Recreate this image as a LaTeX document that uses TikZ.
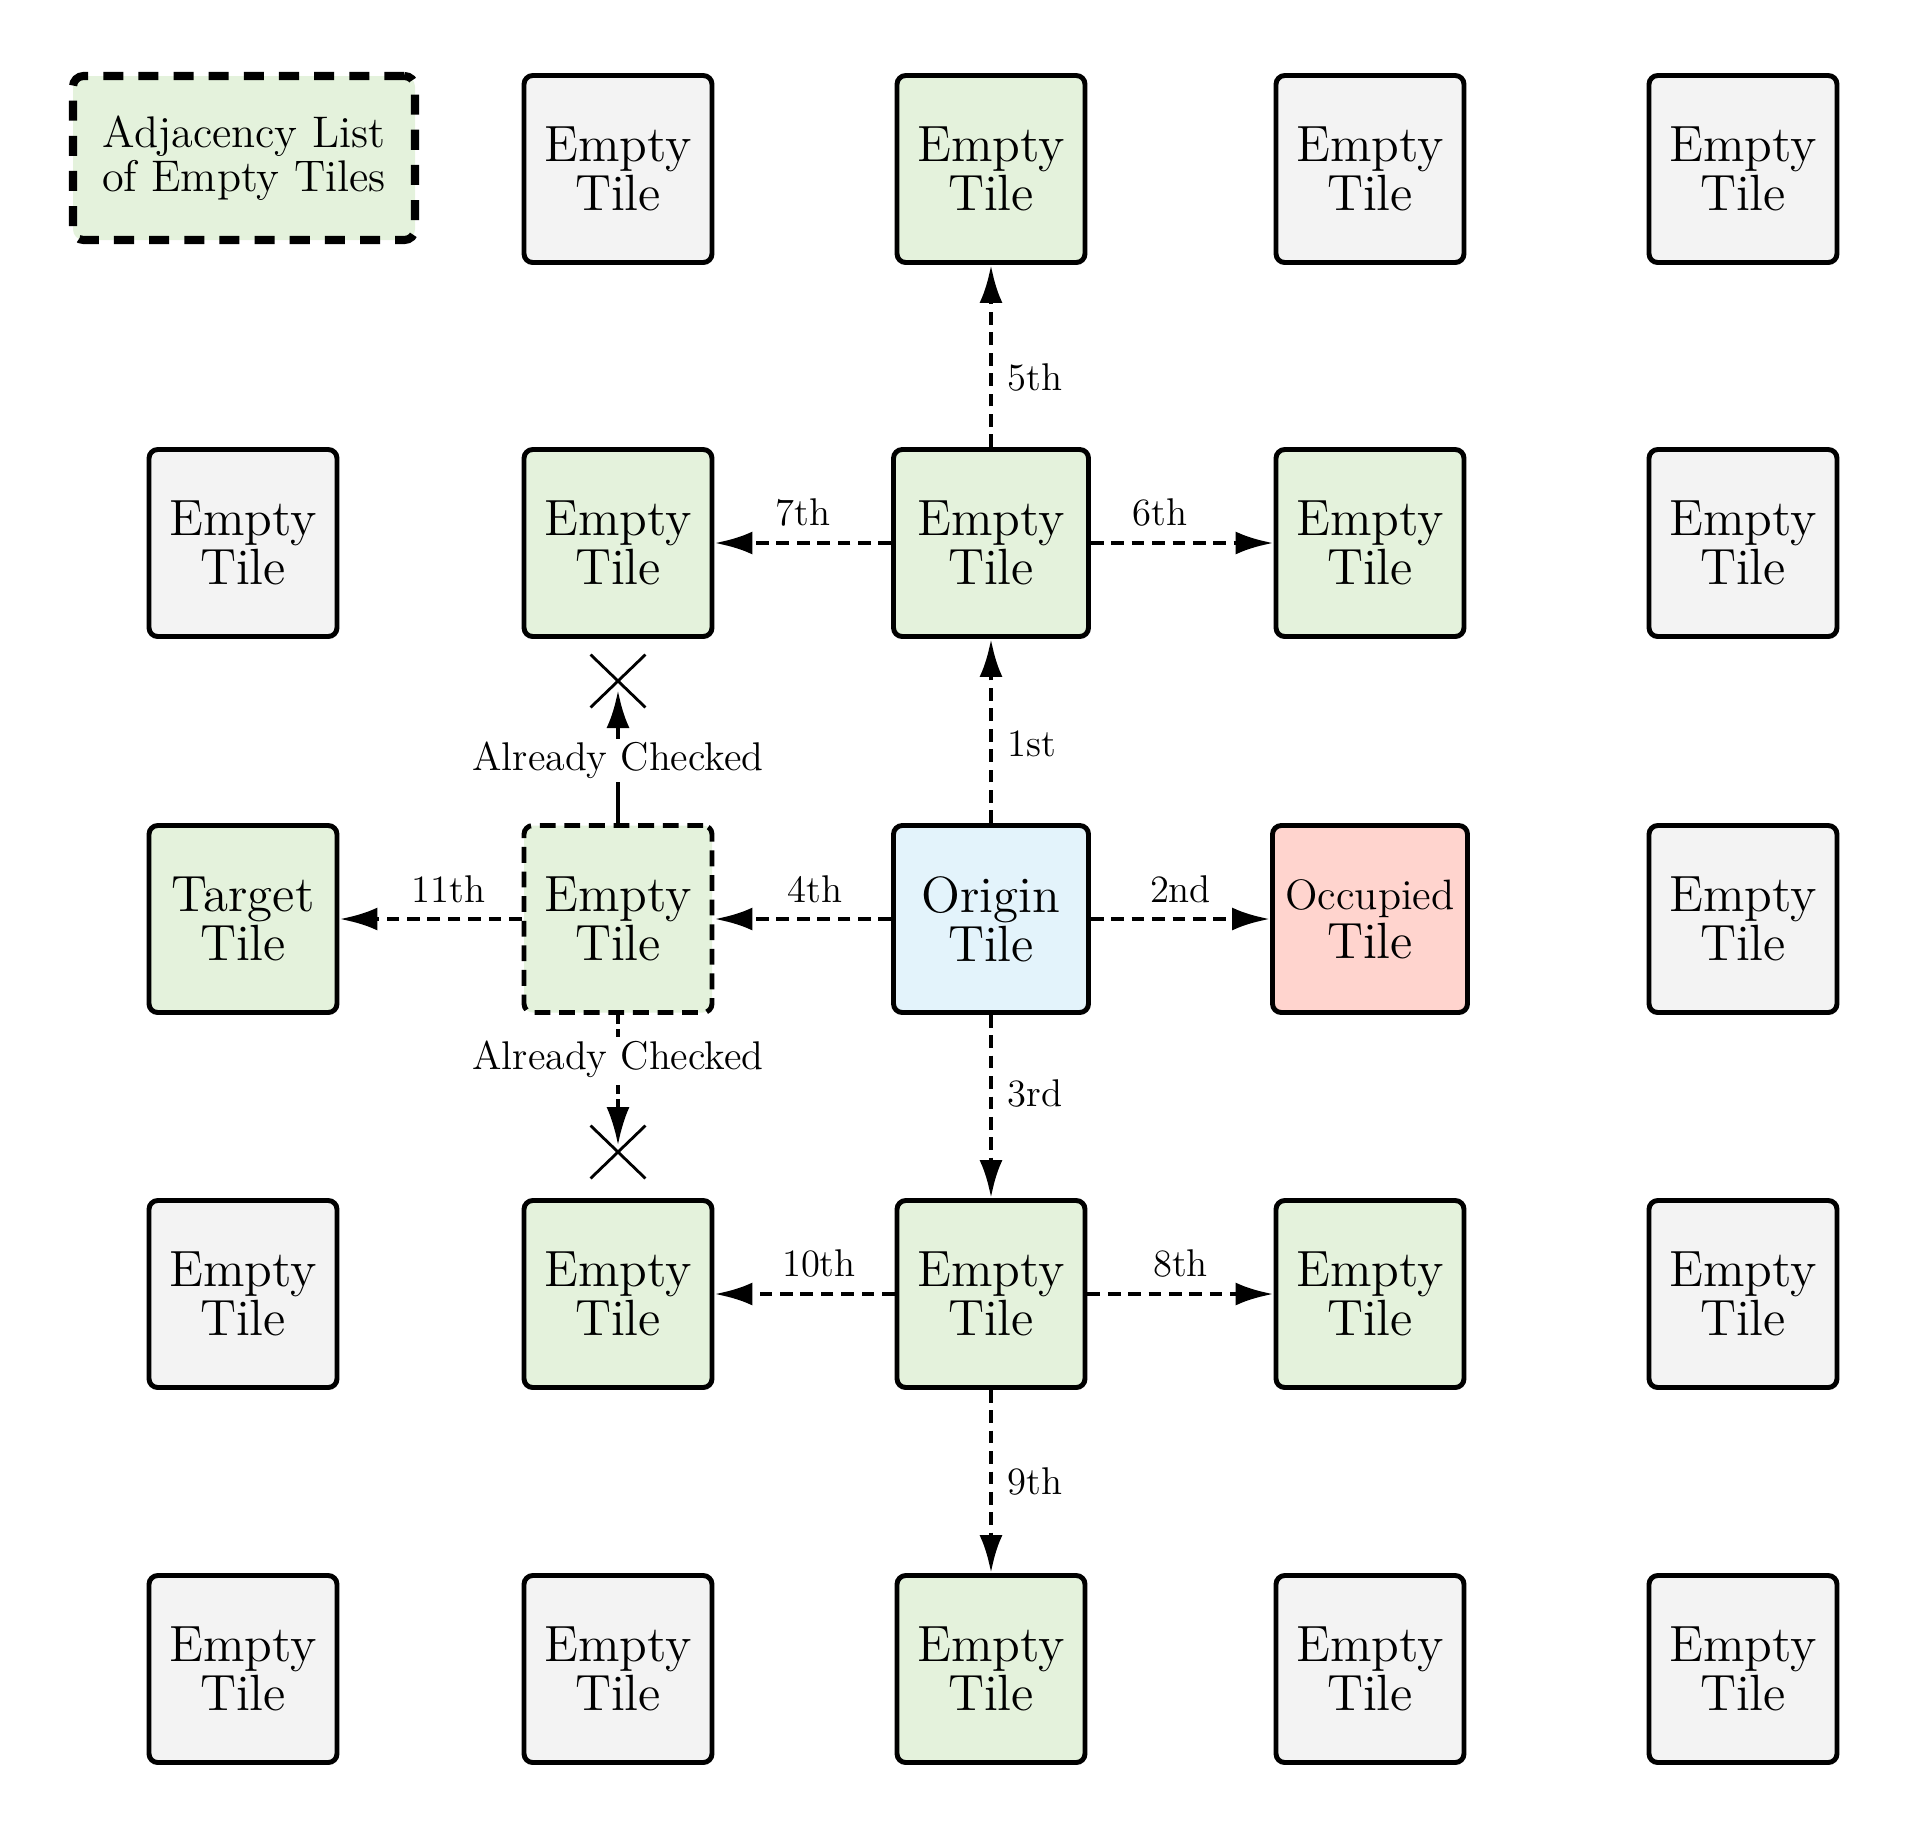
\documentclass[tikz,border=0pt]{standalone}
\usetikzlibrary{shapes.misc,arrows.meta}
\definecolor{tilegray}{HTML}{F3F3F3}
\definecolor{tilegreen}{HTML}{E4F2DC}
\definecolor{tileblue}{HTML}{E3F3FB}
\definecolor{tilered}{HTML}{FFD4CE}
\tikzset{
    -{Latex[length=3.8mm,width=2.3mm]},
    tile/.style ={rectangle, rounded corners=2.5pt, draw, line width=1.4pt, minimum width=1.88cm, minimum height=1.87cm, inner sep=0pt, align=center, font=\fontsize{14.5}{14}\selectfont},
    blank/.style={tile, fill=tilegray},
    open/.style={tile, fill=tilegreen},
    wide/.style={minimum width=1.95cm},
    link/.style={line width=1.4pt},
    hop/.style={link, dash pattern=on 3.6pt off 2.2pt},
    lbl/.style={inner sep=4pt, font=\fontsize{11}{12}\selectfont},
    seen/.style={lbl, fill=white, inner sep=1pt, font=\fontsize{11.4}{12}\selectfont},
    cross/.style={cross out, draw, -, line width=0.8pt, minimum width=0.52cm, minimum height=0.5cm, inner sep=0pt}
}
\begin{document}
\begin{tikzpicture}
      \useasboundingbox (0,0) rectangle (19.13,-18.38);

      \node[draw, fill=tilegreen, rounded corners=3pt, line width=2.3pt, dash pattern=on 5.7pt off 4.3pt, minimum width=3.42cm, minimum height=1.64cm, align=center, font=\fontsize{12.6}{11.4}\selectfont] (key) at (2.44,-1.58) {Adjacency List\\of Empty Tiles};

      \node[blank] (01) at (6.18,-1.69) {Empty\\Tile};
      \node[open] (02) at (9.91,-1.69) {Empty\\Tile};
      \node[blank] (03) at (13.70,-1.69) {Empty\\Tile};
      \node[blank] (04) at (17.43,-1.69) {Empty\\Tile};

      \node[blank] (10) at (2.43,-5.43) {Empty\\Tile};
      \node[open] (11) at (6.18,-5.43) {Empty\\Tile};
      \node[open,wide] (12) at (9.91,-5.43) {Empty\\Tile};
      \node[open] (13) at (13.70,-5.43) {Empty\\Tile};
      \node[blank] (14) at (17.43,-5.43) {Empty\\Tile};

      \node[open] (20) at (2.43,-9.19) {Target\\Tile};
      \node[open,dash pattern=on 4.5pt off 2.5pt] (21) at (6.18,-9.19) {Empty\\Tile};
      \node[tile,wide,fill=tileblue] (22) at (9.91,-9.19) {Origin\\Tile};
      \node[tile,wide,fill=tilered] (23) at (13.70,-9.19) {{\fontsize{12.1}{12}\selectfont Occupied}\\Tile};
      \node[blank] (24) at (17.43,-9.19) {Empty\\Tile};

      \node[blank] (30) at (2.43,-12.94) {Empty\\Tile};
      \node[open] (31) at (6.18,-12.94) {Empty\\Tile};
      \node[open] (32) at (9.91,-12.94) {Empty\\Tile};
      \node[open] (33) at (13.70,-12.94) {Empty\\Tile};
      \node[blank] (34) at (17.43,-12.94) {Empty\\Tile};

      \node[blank] (40) at (2.43,-16.69) {Empty\\Tile};
      \node[blank] (41) at (6.18,-16.69) {Empty\\Tile};
      \node[open] (42) at (9.91,-16.69) {Empty\\Tile};
      \node[blank] (43) at (13.70,-16.69) {Empty\\Tile};
      \node[blank] (44) at (17.43,-16.69) {Empty\\Tile};

      \node[cross] (x1) at (6.18,-6.81) {};
      \node[cross] (x2) at (6.18,-11.52) {};

      \path (22) edge[hop] node[lbl,right,pos=0.43] {1st} (12);
      \path (22) edge[hop] node[lbl,above] {2nd} (23);
      \path (22) edge[hop] node[lbl,right,pos=0.43] {3rd} (32);
      \path (22) edge[hop] node[lbl,above,pos=0.43] {4th} (21);

      \path (12) edge[hop] node[lbl,right,pos=0.38] {5th} (02);
      \path (12) edge[hop] node[lbl,above,pos=0.38] {6th} (13);
      \path (12) edge[hop] node[lbl,above] {7th} (11);

      \path (32) edge[hop] node[lbl,above] {8th} (33);
      \path (32) edge[hop] node[lbl,right] {9th} (42);
      \path (32) edge[hop] node[lbl,above,pos=0.42] {10th} (31);

      \path (21) edge[hop] node[lbl,above,pos=0.4] {11th} (20);
      \path (21) edge[link,shorten >=0.9mm] node[seen,pos=0.44] {Already Checked} (x1.center);
      \path (21) edge[line width=1pt,dash pattern=on 2.5pt off 1.5pt,shorten >=0.7mm] node[seen,pos=0.32] {Already Checked} (x2.center);
\end{tikzpicture}
\end{document}
